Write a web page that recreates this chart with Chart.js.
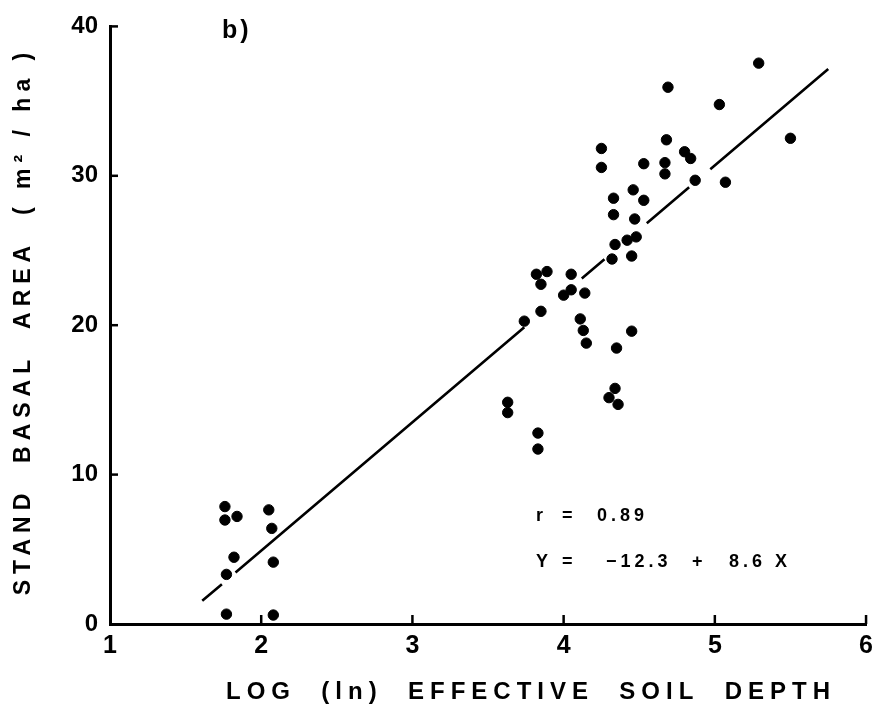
<!DOCTYPE html>
<html><head><meta charset="utf-8">
<script src="https://cdn.jsdelivr.net/npm/chart.js@4/dist/chart.umd.min.js"></script>
<style>html,body{margin:0;padding:0;background:#fff}</style>
</head><body>
<canvas id="c" width="880" height="716"></canvas>
<script>
// ---- data ----
const soilDepthLn = [1.76,1.76,1.84,2.05,2.07,1.82,1.77,2.08,1.77,2.08,
  5.29,4.69,5.03,5.50,4.68,4.25,4.80,4.84,4.53,4.67,4.25,4.67,4.87,5.07,4.46,4.33,4.53,4.33,4.47,4.48,
  4.42,4.34,4.32,4.45,3.82,3.89,4.05,3.85,4.00,4.05,4.14,3.85,3.74,4.11,4.13,4.15,4.45,4.35,4.34,4.30,
  4.36,3.63,3.63,3.83,3.83];
const basalArea = [7.86,6.96,7.20,7.64,6.40,4.47,3.32,4.14,0.66,0.60,
  37.54,35.93,34.77,32.51,32.41,31.83,31.61,31.16,30.81,30.88,30.56,30.13,29.70,29.57,29.06,28.50,28.36,27.40,27.11,25.91,
  25.69,25.40,24.43,24.63,23.41,23.59,23.41,22.74,22.01,22.37,22.15,20.93,20.27,20.42,19.65,18.80,19.60,18.47,15.77,15.15,
  14.70,14.84,14.15,12.78,11.71];
// regression line, drawn in broken segments (null = gap)
const fitLineX = [1.61,1.74,null,1.83,3.74,null,4.12,4.27,null,4.55,4.83,null,4.97,5.75];
const fitLineY = [1.55,2.66,null,3.44,19.86,null,23.13,24.42,null,26.83,29.24,null,30.44,37.15];
const xTickValues = [1,2,3,4,5,6];
const yTickValues = [0,10,20,30,40];
const xTitle = 'LOG  (ln)  EFFECTIVE  SOIL  DEPTH';
const yTitle = 'STAND  BASAL  AREA  ( m² / ha )';
const panelLabel = 'b)';
const statR = ['r','=','0.89'];
const statEq = ['Y','=','−12.3','+','8.6','X'];

const points = soilDepthLn.map((x,i)=>({x:x,y:basalArea[i]}));
const fitPts = fitLineX.map((x,i)=> x===null ? {x:(fitLineX[i-1]+fitLineX[i+1])/2, y:null} : {x:x,y:fitLineY[i]});

const FONT = '"Liberation Sans", Arial, sans-serif';

const decor = {
  id:'decor',
  afterDraw(chart){
    const ctx = chart.ctx, xs = chart.scales.x, ys = chart.scales.y, a = chart.chartArea;
    ctx.save();
    ctx.strokeStyle = '#000'; ctx.lineWidth = 2.5;
    // inward tick marks
    xTickValues.forEach(v=>{ if(v===xTickValues[0]) return;
      const px = xs.getPixelForValue(v);
      ctx.beginPath(); ctx.moveTo(px, a.bottom); ctx.lineTo(px, a.bottom-9); ctx.stroke(); });
    yTickValues.forEach(v=>{ if(v===yTickValues[0]) return;
      const py = ys.getPixelForValue(v);
      ctx.beginPath(); ctx.moveTo(a.left, py); ctx.lineTo(a.left+8, py); ctx.stroke(); });
    ctx.fillStyle = '#000';
    // x title
    ctx.font = 'bold 24px ' + FONT;
    ctx.letterSpacing = '6px';
    ctx.textAlign = 'center'; ctx.textBaseline = 'middle';
    ctx.fillText(xTitle, 531, 692);
    // y title
    ctx.save();
    ctx.translate(24, 321); ctx.rotate(-Math.PI/2);
    ctx.font = 'bold 23px ' + FONT;
    ctx.letterSpacing = '6px';
    ctx.fillText(yTitle, 0, 0);
    ctx.restore();
    // panel label
    ctx.letterSpacing = '3px';
    ctx.textAlign = 'left';
    ctx.font = 'bold 25px ' + FONT;
    ctx.fillText(panelLabel, 222, 31);
    // statistics
    ctx.font = 'bold 18px ' + FONT;
    ctx.letterSpacing = '4px';
    const r1 = [536,562,597];
    statR.forEach((t,i)=>ctx.fillText(t, r1[i], 516));
    const r2 = [536,562,606,692,729,775];
    statEq.forEach((t,i)=>ctx.fillText(t, r2[i], 562));
    ctx.restore();
  }
};

new Chart(document.getElementById('c'), {
  type:'scatter',
  data:{ datasets:[
    { type:'scatter', data:points, backgroundColor:'#000', borderColor:'#000',
      pointRadius:5.2, pointHoverRadius:5.2, order:1 },
    { type:'line', data:fitPts, borderColor:'#000', borderWidth:2.6, pointRadius:0,
      spanGaps:false, fill:false, tension:0, order:2 }
  ]},
  options:{
    responsive:false, animation:false, events:[],
    layout:{ padding:{ left:0, top:22, right:12, bottom:0 } },
    plugins:{ legend:{display:false}, tooltip:{enabled:false} },
    scales:{
      x:{ type:'linear', min:1, max:6,
        afterBuildTicks(s){ s.ticks = xTickValues.map(v=>({value:v})); },
        afterFit(s){ s.height = 92; },
        grid:{ display:true, drawOnChartArea:false, drawTicks:false },
        border:{ display:true, color:'#000', width:3 },
        ticks:{ color:'#000', padding:7, font:{ family:FONT, size:25, weight:'bold' } } },
      y:{ type:'linear', min:0, max:40,
        afterBuildTicks(s){ s.ticks = yTickValues.map(v=>({value:v})); },
        afterFit(s){ s.width = 110; },
        grid:{ display:true, drawOnChartArea:false, drawTicks:false },
        border:{ display:true, color:'#000', width:3 },
        ticks:{ color:'#000', padding:12, font:{ family:FONT, size:24, weight:'bold' } } }
    }
  },
  plugins:[decor]
});
</script>
</body></html>
